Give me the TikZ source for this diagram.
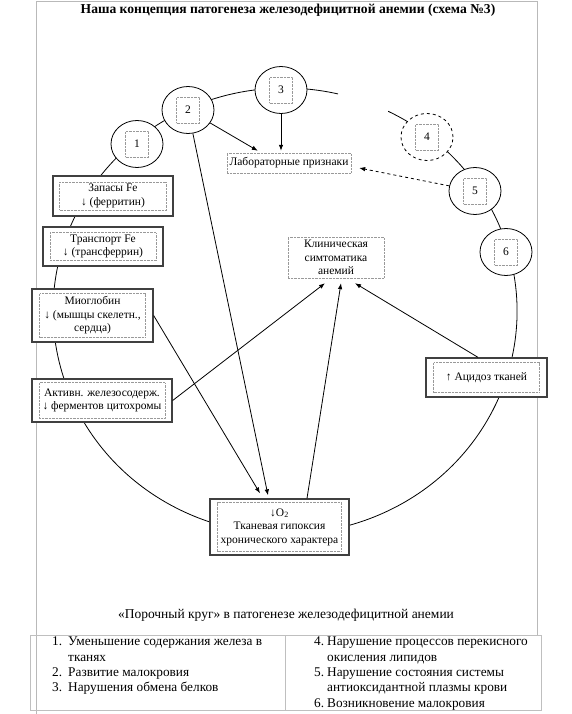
\documentclass[tikz,border=0pt]{standalone}
\usepackage{fontspec}
\setmainfont{Liberation Serif}
\usetikzlibrary{arrows.meta,shapes.geometric}
\tikzset{
	pageline/.style={draw=gray!55, line width=0.6pt},
	tabline/.style={draw=gray!50, line width=0.6pt},
	solidbox/.style={draw=black!75, line width=1.3pt, fill=white},
	dotbox/.style={draw=gray!80, densely dotted, fill=white, align=center, inner sep=1pt, font=\fontsize{11.5}{13.5}\selectfont},
	numcirc/.style={ellipse, draw, line width=0.8pt, fill=white, minimum width=52pt, minimum height=47pt},
	numbox/.style={draw=gray!80, densely dotted, inner sep=0pt, minimum width=23pt, minimum height=26pt, font=\fontsize{11.5}{13}\selectfont},
	arr/.style={line width=0.8pt, -{Latex[length=6pt,width=4.5pt]}},
}
\begin{document}
\begin{tikzpicture}[x=1pt,y=-1pt]
	\useasboundingbox (0,0) rectangle (572,714);
	\draw[pageline] (36,714) -- (36,1) -- (537,1) -- (537,635);
	\node[font=\bfseries\fontsize{13.6}{15}\selectfont] (title) at (288,10) {Наша концепция патогенеза железодефицитной анемии (схема №3)};
	
	\draw[line width=0.8pt] (388.2,111.3) arc[start angle=-63.6, end angle=283.2, x radius=232, y radius=223];
	
	\node[numcirc] (c1) at (137,144) {};
	\node[numbox] (n1) at (c1) {1};
	\node[numcirc] (c2) at (188,110) {};
	\node[numbox] (n2) at (c2) {2};
	\node[numcirc] (c3) at (281,90) {};
	\node[numbox] (n3) at (c3) {3};
	\node[numcirc,dashed] (c4) at (427,137) {};
	\node[numbox] (n4) at (c4) {4};
	\node[numcirc] (c5) at (475,191) {};
	\node[numbox] (n5) at (c5) {5};
	\node[numcirc] (c6) at (506,252) {};
	\node[numbox] (n6) at (c6) {6};
	
	\node[dotbox, minimum width=124pt, minimum height=20pt] (Lab) at (289,163) {Лабораторные признаки};
	\node[dotbox, minimum width=96pt, minimum height=41pt] (Klin) at (336,257.5) {Клиническая\\симтоматика\\анемий};
	
	\node[solidbox, minimum width=120pt, minimum height=40pt] (Zap) at (113,196) {};
	\node[dotbox, minimum width=107pt, minimum height=28pt] (ZapT) at (Zap) {Запасы Fe\\↓ (ферритин)};
	\node[solidbox, minimum width=120pt, minimum height=39pt] (Tr) at (103,246.5) {};
	\node[dotbox, minimum width=106pt, minimum height=28pt] (TrT) at (Tr) {Транспорт Fe\\↓ (трансферрин)};
	\node[solidbox, minimum width=121pt, minimum height=53pt] (Mio) at (92.5,315.5) {};
	\node[dotbox, minimum width=106pt, minimum height=44pt] (MioT) at (Mio) {Миоглобин\\↓ (мышцы скелетн.,\\сердца)};
	\node[solidbox, minimum width=140pt, minimum height=43pt] (Akt) at (102,400.5) {};
	\node[dotbox, minimum width=126pt, minimum height=36pt] (AktT) at (Akt) {Активн. железосодерж.\\↓ ферментов цитохромы};
	\node[solidbox, minimum width=121pt, minimum height=39pt] (Acid) at (486.5,377.5) {};
	\node[dotbox, minimum width=106pt, minimum height=30pt] (AcidT) at (Acid) {↑ Ацидоз тканей};
	\node[solidbox, minimum width=139pt, minimum height=56pt] (Hyp) at (279.5,527) {};
	\node[dotbox, minimum width=124pt, minimum height=49pt] (HypT) at (Hyp) {↓O\textsubscript{2}\\Тканевая гипоксия\\хронического характера};
	
	\draw[arr] (c2) -- ([xshift=31pt,yshift=2pt]Lab.north west);
	\draw[arr] (c3) -- ([yshift=2pt]c3 |- Lab.north);
	\draw[arr,dashed] (c5) -- ([xshift=8pt,yshift=-5pt]Lab.east);
	\draw[arr] (c2) -- ([xshift=-11.5pt,yshift=3pt]Hyp.north);
	\draw[arr] (Mio.east) -- ([xshift=-19.5pt,yshift=5pt]Hyp.north);
	\draw[arr] (Akt.east) -- ([xshift=-11pt,yshift=-5pt]Klin.south);
	\draw[arr] ([xshift=27.5pt]Hyp.north) -- ([xshift=5pt,yshift=-5pt]Klin.south);
	\draw[arr] ([xshift=-8.5pt]Acid.north) -- ([xshift=19pt,yshift=-5pt]Klin.south);
	
	\node[font=\fontsize{13.5}{15}\selectfont] (cap) at (286,615) {«Порочный круг» в патогенезе железодефицитной анемии};
	\draw[tabline] (30,635) rectangle (541,710);
	\draw[tabline] (285,635) -- (285,710);
	\node[anchor=north west, align=left, inner sep=0pt, font=\fontsize{13.3}{15.3}\selectfont] (colL) at (52,637) {\makebox[16pt][l]{1.}Уменьшение содержания железа в\\\hspace*{16pt}тканях\\\makebox[16pt][l]{2.}Развитие малокровия\\\makebox[16pt][l]{3.}Нарушения обмена белков};
	\node[anchor=north west, align=left, inner sep=0pt, font=\fontsize{13.3}{15.3}\selectfont] (colR) at (314,637) {\makebox[13pt][l]{4.}Нарушение процессов перекисного\\\hspace*{13pt}окисления липидов\\\makebox[13pt][l]{5.}Нарушение состояния системы\\\hspace*{13pt}антиоксидантной плазмы крови\\\makebox[13pt][l]{6.}Возникновение малокровия};
\end{tikzpicture}
\end{document}
